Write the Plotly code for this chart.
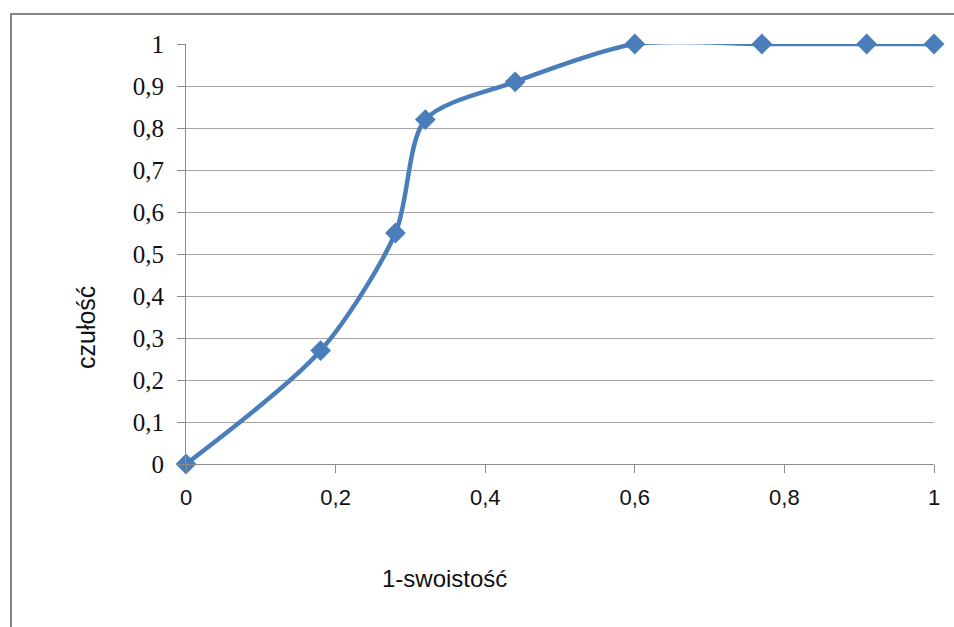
import plotly.graph_objects as go

# Data
fpr = [0, 0.18, 0.28, 0.32, 0.44, 0.60, 0.77, 0.91, 1.0]   # 1-swoistość
tpr = [0, 0.27, 0.55, 0.82, 0.91, 1.0, 1.0, 1.0, 1.0]      # czułość

x_title = "1-swoistość"
y_title = "czułość"

BLUE = "#4A7EBB"
GRID = "#A6A6A6"
AXIS = "#8C8C8C"

W, H = 954, 627
L, R, T, B = 186, 20, 44, 163
pw = W - L - R
ph = H - T - B

fig = go.Figure()
fig.add_trace(go.Scatter(
    x=fpr, y=tpr, mode="lines+markers",
    line=dict(color=BLUE, width=4.5, shape="spline", smoothing=0.8),
    marker=dict(symbol="diamond", size=16, color=BLUE),
    cliponaxis=False, showlegend=False, hoverinfo="skip",
))

fig.update_layout(
    width=W, height=H,
    margin=dict(l=L, r=R, t=T, b=B, pad=0),
    paper_bgcolor="white", plot_bgcolor="white",
    separators=", ",
    showlegend=False,
    xaxis=dict(
        range=[0, 1], dtick=0.2, tick0=0,
        showgrid=False, zeroline=False,
        showline=True, linecolor=AXIS, linewidth=1,
        ticks="outside", ticklen=8, tickcolor=AXIS, tickwidth=1,
        tickfont=dict(family="Liberation Sans, Arial, sans-serif", size=22, color="#111111"),
        ticklabelstandoff=6,
    ),
    yaxis=dict(
        range=[0, 1], dtick=0.1, tick0=0,
        showgrid=True, gridcolor=GRID, gridwidth=1,
        zeroline=False,
        showline=True, linecolor=AXIS, linewidth=1,
        ticks="outside", ticklen=8, tickcolor=AXIS, tickwidth=1,
        tickfont=dict(family="Liberation Serif, Times New Roman, serif", size=25, color="#111111"),
        ticklabelstandoff=8,
    ),
    shapes=[dict(
        type="rect", xref="paper", yref="paper", layer="above",
        x0=(11 - L) / pw, x1=(W + 20 - L) / pw,
        y0=-(H + 20 - T - ph) / ph, y1=(H - B - 14) / ph,
        line=dict(color="#858585", width=2), fillcolor="rgba(0,0,0,0)",
    )],
    annotations=[
        dict(text=x_title, xref="paper", yref="paper",
             x=(444 - L) / pw, y=-(578 - T - ph) / ph,
             xanchor="center", yanchor="middle", showarrow=False,
             font=dict(family="Liberation Sans, Arial, sans-serif", size=24, color="#111111")),
        dict(text=y_title, xref="paper", yref="paper",
             x=(86 - L) / pw, y=(H - B - 328) / ph,
             xanchor="center", yanchor="middle", showarrow=False, textangle=-90,
             font=dict(family="Liberation Sans, Arial, sans-serif", size=25, color="#111111")),
    ],
)

fig.write_html("out.html")
